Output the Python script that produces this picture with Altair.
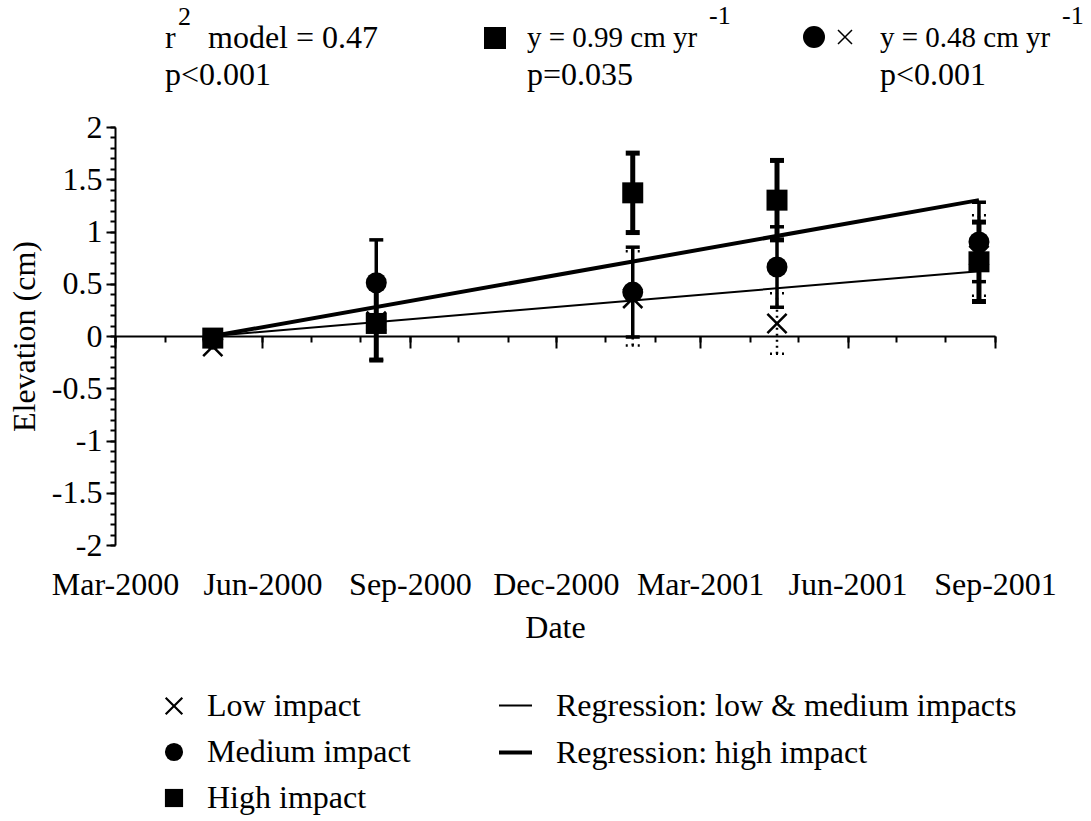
import altair as alt
import pandas as pd

# ---------------- data ----------------
dates = ["2000-05-01", "2000-08-11", "2001-01-18", "2001-04-18", "2001-08-22"]

low_mean = [-0.10, 0.14, 0.36, 0.12, 0.77]
low_se = [0.00, 0.37, 0.45, 0.29, 0.385]
med_mean = [-0.03, 0.51, 0.42, 0.66, 0.90]
med_se = [0.00, 0.41, 0.43, 0.385, 0.38]
high_mean = [-0.02, 0.12, 1.37, 1.30, 0.71]
high_se = [0.00, 0.35, 0.38, 0.38, 0.38]

fit_dates = ["2000-05-01", "2001-08-22"]
fit_lowmed = [0.00, 0.62]
fit_high = [0.00, 1.30]

impact_labels = ["Low impact", "Medium impact", "High impact"]
fit_labels = ["Regression: low & medium impacts", "Regression: high impact"]

y_major = [-2, -1.5, -1, -0.5, 0, 0.5, 1, 1.5, 2]
y_minor = [round(-2 + 0.1 * i, 1) for i in range(41)]
quarter_ticks = [(2000, 3), (2000, 6), (2000, 9), (2000, 12), (2001, 3), (2001, 6), (2001, 9)]
month_ticks = [(2000 + (2 + i) // 12, (2 + i) % 12 + 1) for i in range(19)]

ann_r2 = "model = 0.47"
ann_p1 = "p<0.001"
ann_high = "y = 0.99 cm yr"
ann_p2 = "p=0.035"
ann_lowmed = "y = 0.48 cm yr"
ann_p3 = "p<0.001"

# ---------------- build tables ----------------
FONT = "Liberation Serif"
FS = 32
# filled "x" outline (unit box -1..1) so it shows both in the plot and in the legend
XPOLY = ("M-1,-0.83L-0.83,-1L0,-0.17L0.83,-1L1,-0.83L0.17,0L1,0.83L0.83,1"
         "L0,0.17L-0.83,1L-1,0.83L-0.17,0Z")
XLINE = "M-1,-1L1,1M1,-1L-1,1"


def dt(y, m, d=1):
    return alt.DateTime(year=y, month=m, date=d, utc=True)


xscale = alt.Scale(type="utc", domain=[dt(2000, 3), dt(2001, 9)], nice=False)
yscale = alt.Scale(domain=[-2, 2], nice=False, zero=False)


def bars_df(means, ses):
    return pd.DataFrame({
        "date": dates,
        "lo": [m - s for m, s in zip(means, ses)],
        "hi": [m + s for m, s in zip(means, ses)],
    })


def caps_df(means, ses):
    rows = []
    for d, m, s in zip(dates, means, ses):
        rows.append({"date": d, "v": m - s})
        rows.append({"date": d, "v": m + s})
    return pd.DataFrame(rows)


ax_labels = alt.Axis(orient="bottom", values=[dt(y, m) for y, m in quarter_ticks],
                     labelExpr="utcFormat(datum.value, '%b-%Y')", domain=False, ticks=False,
                     labelPadding=24, labelFlush=False, labelOverlap=False,
                     labelFontSize=FS, title="Date", titlePadding=12, titleFontSize=FS,
                     grid=False)
ax_month = alt.Axis(orient="bottom", offset=-209, values=[dt(y, m) for y, m in month_ticks],
                    labels=False, domain=True, domainWidth=2, ticks=True, tickSize=6,
                    tickWidth=2, title=None, grid=False)
ax_quarter = alt.Axis(orient="bottom", offset=-209, values=[dt(y, m) for y, m in quarter_ticks],
                      labels=False, domain=False, ticks=True, tickSize=12, tickWidth=2,
                      title=None, grid=False)
ay_major = alt.Axis(orient="left", values=y_major, labelExpr="datum.value + ''",
                    tickSize=9, tickWidth=2, domainWidth=2,
                    labelPadding=4, labelFlush=False, labelFontSize=FS, title="Elevation (cm)",
                    titleFontSize=FS, titlePadding=10, grid=False)
ay_minor = alt.Axis(orient="left", values=y_minor, tickSize=5, tickWidth=2, labels=False,
                    domain=False, title=None, grid=False)


def errbar(means, ses, width, dash, xaxis, yaxis):
    kw = dict(color="black", strokeWidth=width)
    if dash:
        kw["strokeDash"] = dash
    bar = alt.Chart(bars_df(means, ses)).mark_rule(**kw).encode(
        x=alt.X("date:T", scale=xscale, axis=xaxis),
        y=alt.Y("lo:Q", scale=yscale, axis=yaxis),
        y2="hi:Q",
    )
    cap = alt.Chart(caps_df(means, ses)).mark_rule(xOffset=-7, x2Offset=7, **kw).encode(
        x=alt.X("date:T", scale=xscale, axis=None),
        x2="date:T",
        y=alt.Y("v:Q", scale=yscale, axis=None),
    )
    return bar, cap


low_bar, low_cap = errbar(low_mean, low_se, 2.5, [2, 4], ax_month, ay_minor)
med_bar, med_cap = errbar(med_mean, med_se, 3.5, None, ax_quarter, ay_major)
high_bar, high_cap = errbar(high_mean, high_se, 5, None, ax_labels, None)

LEG = dict(title=None, orient="none", direction="vertical", labelFont=FONT,
           labelFontSize=FS, labelColor="black", labelLimit=1000, padding=0)

line_df = pd.DataFrame({
    "date": fit_dates + fit_dates,
    "v": fit_lowmed + fit_high,
    "series": [fit_labels[0]] * 2 + [fit_labels[1]] * 2,
})
lines = alt.Chart(line_df).mark_line(color="black").encode(
    x=alt.X("date:T", scale=xscale, axis=None),
    y=alt.Y("v:Q", scale=yscale, axis=None),
    strokeWidth=alt.StrokeWidth(
        "series:O",
        scale=alt.Scale(domain=fit_labels, range=[2, 4]),
        legend=alt.Legend(legendX=382, legendY=561, symbolType="stroke", symbolSize=1089,
                          symbolStrokeColor="black", labelOffset=22, rowPadding=12, **LEG),
    ),
)

# draw order: crosses first, the first medium point under the squares, other circles on top
pt_rows = []
for d, m in zip(dates, low_mean):
    pt_rows.append({"date": d, "v": m, "impact": impact_labels[0]})
pt_rows.append({"date": dates[0], "v": med_mean[0], "impact": impact_labels[1]})
for d, m in zip(dates, high_mean):
    pt_rows.append({"date": d, "v": m, "impact": impact_labels[2]})
for d, m in zip(dates[1:], med_mean[1:]):
    pt_rows.append({"date": d, "v": m, "impact": impact_labels[1]})
pts_df = pd.DataFrame(pt_rows)

points = alt.Chart(pts_df).mark_point(filled=True, color="black", opacity=1,
                                      size=441).encode(
    x=alt.X("date:T", scale=xscale, axis=None),
    y=alt.Y("v:Q", scale=yscale, axis=None),
    shape=alt.Shape(
        "impact:N",
        scale=alt.Scale(domain=impact_labels, range=[XPOLY, "circle", "square"]),
        legend=alt.Legend(legendX=43, legendY=563, symbolSize=330, symbolFillColor="black",
                          labelOffset=17, rowPadding=14, **LEG),
    ),
)

# ---------------- annotations above the plot ----------------
one = pd.DataFrame({"k": [0]})


def txt(s, x, y, size=FS):
    return alt.Chart(one).mark_text(text=s, align="left", baseline="middle", font=FONT,
                                    fontSize=size, color="black").encode(
        x=alt.value(x), y=alt.value(y))


def sym(shape, x, y, size, filled=True, sw=1.0):
    return alt.Chart(one).mark_point(shape=shape, filled=filled, size=size, color="black",
                                     strokeWidth=sw, opacity=1).encode(
        x=alt.value(x), y=alt.value(y))


annotations = [
    txt("r", 50, -89),
    txt("2", 63, -110, 26),
    txt(ann_r2, 93, -89),
    txt(ann_p1, 50, -52),
    sym("square", 380, -89, 484),
    txt(ann_high, 412, -89, 29),
    txt("-1", 594, -111, 26),
    txt(ann_p2, 412, -52),
    sym("circle", 699, -90, 484),
    sym(XLINE, 730, -90, 196, filled=False, sw=1.5),
    txt(ann_lowmed, 765, -89, 29),
    txt("-1", 947, -111, 26),
    txt(ann_p3, 765, -52),
]

chart = alt.layer(
    low_bar, low_cap, med_bar, med_cap, high_bar, high_cap, lines, points, *annotations
).resolve_axis(x="independent", y="independent").properties(
    width=880, height=418,
    padding={"left": 115, "top": 127, "right": 96, "bottom": 276},
    autosize=alt.AutoSizeParams(type="none"),
    background="white",
).configure_view(stroke=None).configure_axis(
    labelFont=FONT, titleFont=FONT, labelColor="black", titleColor="black",
    domainColor="black", tickColor="black", titleFontWeight="normal",
)

chart.save("out.html", embed_options={"renderer": "svg", "actions": False})
